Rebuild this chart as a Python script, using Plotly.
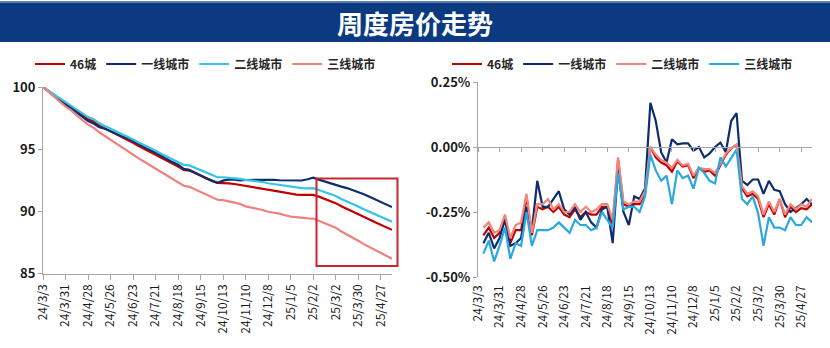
import plotly.graph_objects as go

# ---------------- data ----------------
dates = ["24/3/3", "24/3/10", "24/3/17", "24/3/24", "24/3/31", "24/4/7", "24/4/14", "24/4/21", "24/4/28",
         "24/5/5", "24/5/12", "24/5/19", "24/5/26", "24/6/2", "24/6/9", "24/6/16", "24/6/23", "24/6/30",
         "24/7/7", "24/7/14", "24/7/21", "24/7/28", "24/8/4", "24/8/11", "24/8/18", "24/8/25", "24/9/1",
         "24/9/8", "24/9/15", "24/9/22", "24/9/29", "24/10/6", "24/10/13", "24/10/20", "24/10/27", "24/11/3",
         "24/11/10", "24/11/17", "24/11/24", "24/12/1", "24/12/8", "24/12/15", "24/12/22", "24/12/29",
         "25/1/5", "25/1/12", "25/1/19", "25/1/26", "25/2/2", "25/2/9", "25/2/16", "25/2/23", "25/3/2",
         "25/3/9", "25/3/16", "25/3/23", "25/3/30", "25/4/6", "25/4/13", "25/4/20", "25/4/27", "25/5/4", "25/5/11"]
tick_labels = dates[::4]

series_names = ["46城", "一线城市", "二线城市", "三线城市"]

# left: price index (base 100)
idx_46 = [100, 99.66, 99.35, 99.00, 98.67, 98.40, 98.04, 97.72, 97.41, 97.22, 96.89, 96.67, 96.44, 96.22,
          95.98, 95.76, 95.51, 95.25, 95.02, 94.77, 94.53, 94.29, 94.04, 93.83, 93.61, 93.33, 93.28, 93.08,
          92.86, 92.66, 92.45, 92.29, 92.29, 92.25, 92.20, 92.13, 92.05, 92.00, 91.93, 91.86, 91.75, 91.68,
          91.59, 91.51, 91.41, 91.35, 91.32, 91.31, 91.32, 91.18, 91.00, 90.84, 90.66, 90.41, 90.21, 89.98,
          89.80, 89.56, 89.35, 89.13, 88.92, 88.71, 88.51]
idx_t1 = [100, 99.63, 99.30, 98.92, 98.58, 98.31, 97.95, 97.60, 97.27, 97.06, 96.76, 96.64, 96.43, 96.22,
          96.04, 95.89, 95.67, 95.43, 95.22, 94.96, 94.72, 94.46, 94.18, 93.96, 93.75, 93.41, 93.34, 93.11,
          92.84, 92.66, 92.47, 92.30, 92.47, 92.57, 92.55, 92.49, 92.52, 92.53, 92.54, 92.56, 92.54, 92.54,
          92.50, 92.48, 92.48, 92.50, 92.48, 92.58, 92.71, 92.55, 92.40, 92.28, 92.15, 91.99, 91.87, 91.72,
          91.57, 91.38, 91.17, 90.95, 90.74, 90.54, 90.34]
idx_t2 = [100, 99.69, 99.40, 99.07, 98.76, 98.50, 98.15, 97.86, 97.58, 97.40, 97.08, 96.87, 96.66, 96.46,
          96.23, 96.02, 95.78, 95.54, 95.33, 95.09, 94.87, 94.63, 94.40, 94.20, 93.99, 93.73, 93.69, 93.49,
          93.29, 93.09, 92.90, 92.74, 92.74, 92.71, 92.66, 92.61, 92.53, 92.49, 92.42, 92.36, 92.26, 92.19,
          92.11, 92.03, 91.94, 91.88, 91.86, 91.85, 91.86, 91.72, 91.56, 91.40, 91.23, 90.99, 90.80, 90.57,
          90.39, 90.16, 89.96, 89.75, 89.55, 89.35, 89.17]
idx_t3 = [100, 99.59, 99.23, 98.80, 98.42, 98.12, 97.70, 97.34, 96.97, 96.73, 96.36, 96.05, 95.74, 95.44,
          95.14, 94.86, 94.57, 94.26, 93.99, 93.71, 93.43, 93.13, 92.84, 92.61, 92.35, 92.06, 91.97, 91.75,
          91.54, 91.33, 91.10, 90.93, 90.90, 90.82, 90.70, 90.60, 90.40, 90.32, 90.21, 90.11, 89.97, 89.90,
          89.81, 89.69, 89.57, 89.53, 89.46, 89.43, 89.42, 89.25, 89.07, 88.91, 88.69, 88.38, 88.15, 87.89,
          87.63, 87.36, 87.14, 86.89, 86.64, 86.42, 86.18]

# right: week-on-week change (%)
chg_46 = [None, -0.34, -0.31, -0.35, -0.33, -0.27, -0.37, -0.32, -0.32, -0.19, -0.34,
          -0.23, -0.24, -0.23, -0.25, -0.23, -0.26, -0.27, -0.24, -0.27, -0.25,
          -0.26, -0.26, -0.23, -0.23, -0.30, -0.05, -0.22, -0.23, -0.22, -0.22,
          -0.18, 0.00, -0.04, -0.06, -0.07, -0.095, -0.055, -0.075, -0.07, -0.12,
          -0.08, -0.095, -0.09, -0.11, -0.07, -0.03, -0.005, 0.008, -0.16, -0.19,
          -0.18, -0.20, -0.27, -0.22, -0.26, -0.20, -0.27, -0.23, -0.25, -0.235,
          -0.24, -0.22]
chg_t1 = [None, -0.37, -0.33, -0.39, -0.35, -0.28, -0.38, -0.37, -0.35, -0.23, -0.32,
          -0.13, -0.23, -0.23, -0.20, -0.17, -0.24, -0.26, -0.23, -0.28, -0.25,
          -0.29, -0.31, -0.24, -0.23, -0.37, -0.08, -0.25, -0.30, -0.19, -0.20,
          -0.16, 0.17, 0.10, -0.02, -0.06, 0.03, 0.01, 0.014, 0.014, -0.014,
          0.0, -0.04, -0.025, 0.0, 0.017, -0.02, 0.10, 0.13, -0.13, -0.146,
          -0.125, -0.125, -0.18, -0.13, -0.165, -0.17, -0.22, -0.25, -0.235, -0.22,
          -0.20, -0.22]
chg_t2 = [None, -0.31, -0.29, -0.33, -0.32, -0.26, -0.35, -0.30, -0.29, -0.18, -0.33,
          -0.22, -0.22, -0.20, -0.24, -0.22, -0.25, -0.25, -0.22, -0.25, -0.23,
          -0.25, -0.24, -0.22, -0.22, -0.28, -0.04, -0.21, -0.22, -0.21, -0.21,
          -0.17, 0.00, -0.03, -0.05, -0.06, -0.08, -0.05, -0.07, -0.065, -0.11,
          -0.08, -0.085, -0.085, -0.10, -0.065, -0.025, -0.005, 0.01, -0.15, -0.18,
          -0.17, -0.19, -0.26, -0.21, -0.25, -0.20, -0.26, -0.22, -0.24, -0.22,
          -0.23, -0.20]
chg_t3 = [None, -0.41, -0.36, -0.44, -0.38, -0.31, -0.43, -0.37, -0.38, -0.25, -0.38,
          -0.32, -0.32, -0.32, -0.31, -0.29, -0.31, -0.33, -0.28, -0.30, -0.30,
          -0.32, -0.31, -0.25, -0.28, -0.31, -0.10, -0.24, -0.23, -0.23, -0.25,
          -0.19, -0.03, -0.09, -0.13, -0.11, -0.22, -0.09, -0.12, -0.11, -0.16,
          -0.08, -0.10, -0.13, -0.14, -0.04, -0.075, -0.04, -0.01, -0.20, -0.22,
          -0.19, -0.255, -0.38, -0.27, -0.31, -0.31, -0.32, -0.27, -0.30, -0.30,
          -0.27, -0.29]

left_ticks = [85, 90, 95, 100]
right_ticks = [0.25, 0.0, -0.25, -0.5]
right_ticktext = ["0.25%", "0.00%", "-0.25%", "-0.50%"]

# ---------------- style ----------------
W, H = 830, 348
FONT = "Noto Sans CJK SC, Microsoft YaHei, sans-serif"
AX = "#A6A6A6"
left_colors = ["#C00000", "#0E2D6D", "#33C4E8", "#F08080"]
right_colors = ["#C00000", "#0E2D6D", "#F4837A", "#2AA8E0"]


def fx(p):
    return p / W


def fy(p):
    return 1 - p / H


fig = go.Figure()
for name, vals, col in zip(series_names, [idx_46, idx_t1, idx_t2, idx_t3], left_colors):
    fig.add_trace(go.Scatter(x=dates, y=vals, name=name, mode="lines",
                             line=dict(color=col, width=2.2), xaxis="x", yaxis="y",
                             legend="legend"))
for name, vals, col in zip(series_names, [chg_46, chg_t1, chg_t2, chg_t3], right_colors):
    fig.add_trace(go.Scatter(x=dates, y=vals, name=name, mode="lines",
                             line=dict(color=col, width=2.2), xaxis="x2", yaxis="y2",
                             legend="legend2"))
# carrier for the zero-line axis of the right panel
fig.add_trace(go.Scatter(x=dates, y=[None] * len(dates), xaxis="x3", yaxis="y2",
                         showlegend=False, hoverinfo="skip"))

tickfont_x = dict(family=FONT, size=12, color="#1A1A1A")
tickfont_y = dict(family=FONT, size=13, color="#1A1A1A", weight="bold")
legfont = dict(family=FONT, size=12, color="#262626", weight="bold")

fig.update_layout(
    width=W, height=H, margin=dict(l=0, r=0, t=0, b=0, autoexpand=False),
    paper_bgcolor="white", plot_bgcolor="white",
    font=dict(family=FONT),
    xaxis=dict(domain=[fx(43), fx(392)], type="category", range=[0, len(dates) - 1],
               tickmode="array", tickvals=tick_labels, ticktext=tick_labels, tickangle=-90,
               showline=True, linecolor=AX, linewidth=1, ticks="outside", ticklen=5,
               tickcolor=AX, showgrid=False, zeroline=False, tickfont=tickfont_x,
               anchor="y", automargin=False),
    yaxis=dict(domain=[fy(273.5), fy(87)], range=[85, 100], tickvals=left_ticks,
               showline=True, linecolor=AX, linewidth=1, ticks="outside", ticklen=4,
               tickcolor=AX, showgrid=False, zeroline=False, tickfont=tickfont_y,
               anchor="x", automargin=False),
    xaxis2=dict(domain=[fx(478), fx(812)], type="category", range=[0, len(dates) - 1],
                tickmode="array", tickvals=tick_labels, ticktext=tick_labels, tickangle=-90,
                showline=False, ticks="", showgrid=False, zeroline=False,
                tickfont=tickfont_x, ticklabelstandoff=5, anchor="y2", automargin=False),
    xaxis3=dict(overlaying="x2", type="category", range=[0, len(dates) - 1],
                tickmode="array", tickvals=tick_labels, showticklabels=False,
                showline=True, linecolor=AX, linewidth=1, ticks="outside", ticklen=4,
                tickcolor=AX, showgrid=False, zeroline=False,
                anchor="free", position=fy(147)),
    yaxis2=dict(domain=[fy(277), fy(82)], range=[-0.5, 0.25], tickvals=right_ticks,
                ticktext=right_ticktext, showline=True, linecolor=AX, linewidth=1,
                ticks="outside", ticklen=4, tickcolor=AX, showgrid=False, zeroline=False,
                tickfont=tickfont_y, anchor="x2", automargin=False),
    legend=dict(orientation="h", x=fx(30), y=fy(64), xanchor="left", yanchor="middle",
                font=legfont, bgcolor="rgba(0,0,0,0)", itemwidth=30),
    legend2=dict(orientation="h", x=fx(447), y=fy(64), xanchor="left", yanchor="middle",
                 font=legfont, bgcolor="rgba(0,0,0,0)", itemwidth=30),
    showlegend=True,
)

# title band
fig.add_shape(type="rect", xref="paper", yref="paper", x0=0, x1=1, y0=fy(42), y1=fy(3),
              fillcolor="#0B3A80", line=dict(width=0), layer="below")
fig.add_shape(type="rect", xref="paper", yref="paper", x0=0, x1=1, y0=fy(3), y1=fy(1),
              fillcolor="#5C7FB5", line=dict(width=0), layer="below")
fig.add_annotation(text="周度房价走势", x=0.5, y=fy(22.5), xref="paper", yref="paper",
                   showarrow=False, xanchor="center", yanchor="middle",
                   font=dict(family=FONT, size=26, color="white", weight="bold"))

# highlight box on the left panel
fig.add_shape(type="rect", xref="paper", yref="paper", x0=fx(316.5), x1=fx(397.5),
              y0=fy(266), y1=fy(178.5), line=dict(color="#C8262C", width=2),
              fillcolor="rgba(0,0,0,0)")

fig.write_html("out.html")
